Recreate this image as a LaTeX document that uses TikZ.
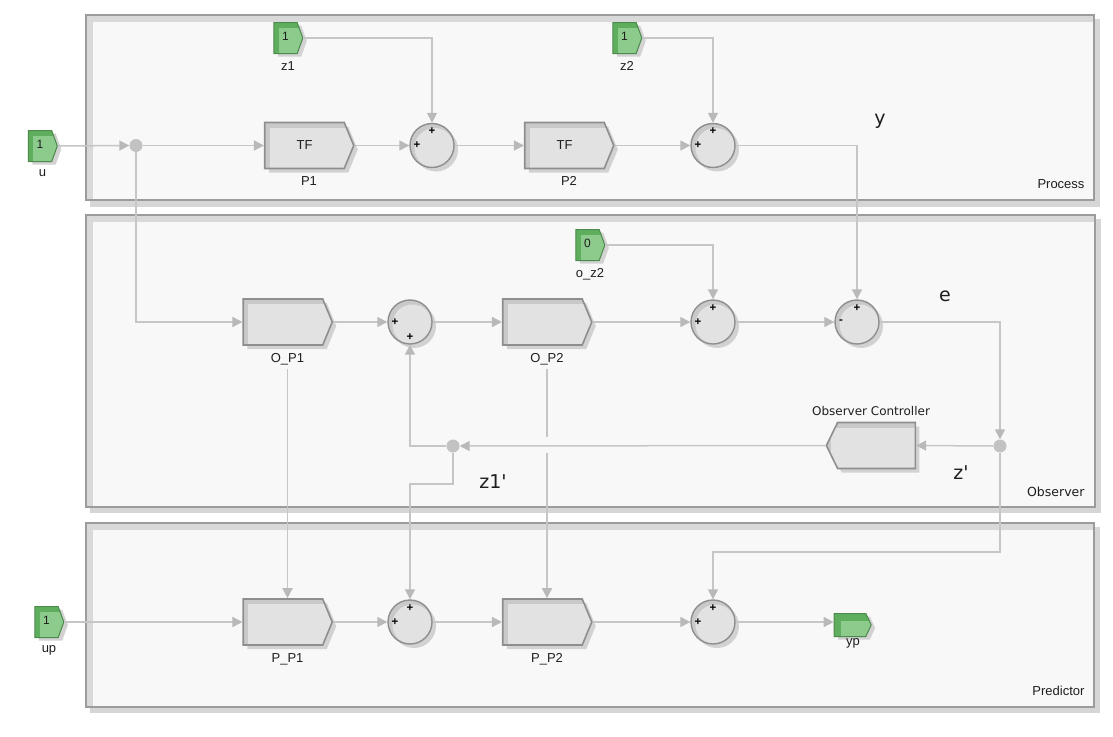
\documentclass[tikz,border=0pt]{standalone}
\usepackage{fontspec}
\setmainfont{Liberation Sans}
\newfontfamily\tahomaish{DejaVu Sans}
\usetikzlibrary{shapes.symbols,shapes.geometric,arrows.meta,shadows}
\definecolor{frameline}{HTML}{9C9C9C}
\definecolor{frameband}{HTML}{D9D9D9}
\definecolor{frameshad}{HTML}{D6D6D6}
\definecolor{panelbg}{HTML}{F8F8F8}
\definecolor{wirec}{HTML}{C6C6C6}
\definecolor{tipc}{HTML}{B9B9B9}
\definecolor{dotc}{HTML}{C2C2C2}
\definecolor{blkline}{HTML}{8E8E8E}
\definecolor{blkband}{HTML}{C9C9C9}
\definecolor{blkfill}{HTML}{E2E2E2}
\definecolor{shad}{HTML}{D2D2D2}
\definecolor{gdark}{HTML}{5EAE5E}
\definecolor{glight}{HTML}{8CCB8C}
\definecolor{gline}{HTML}{4D8A4D}
\definecolor{txt}{HTML}{1E1E1E}
\tikzset{
  wire/.style={draw=wirec, line width=1.5pt},
  arr/.style={wire, -{Triangle[length=10pt,width=10pt,color=tipc,fill=tipc]}},
  gapcover/.style={draw=panelbg, line width=4pt},
  myshadow/.style={drop shadow={shadow xshift=4pt,shadow yshift=-4pt,fill=shad,opacity=1}},
  blockbox/.style={signal, signal to=east, signal pointer angle=135,
    minimum width=89pt, minimum height=46pt, inner sep=0pt,
    draw=blkline, line width=1.6pt, fill=blkband, myshadow,
    path picture={\fill[blkfill] ([xshift=5pt]path picture bounding box.south west) rectangle ([yshift=-5pt]path picture bounding box.north east);},
    font=\fontsize{13}{15}\selectfont, text=txt},
  sumnode/.style={circle, minimum size=44pt, inner sep=0pt,
    draw=blkline, line width=1.4pt, fill=blkband, myshadow,
    path picture={\fill[blkfill] ([xshift=2.5pt,yshift=-2.5pt]path picture bounding box.center) circle (20pt);}},
  dotnode/.style={circle, fill=dotc, minimum size=13pt, inner sep=0pt},
  portnode/.style={signal, signal to=east, signal pointer angle=140,
    minimum width=29pt, minimum height=31pt, inner sep=0pt,
    draw=gline, line width=1pt, fill=gdark,
    drop shadow={shadow xshift=4pt,shadow yshift=-3pt,fill=shad,opacity=1},
    path picture={\fill[glight] ([xshift=5pt]path picture bounding box.south west) rectangle ([yshift=-5pt]path picture bounding box.north east);},
    font=\fontsize{12}{13}\selectfont, text=txt},
  outport/.style={signal, signal to=east, signal pointer angle=130,
    minimum width=37pt, minimum height=23pt, inner sep=0pt,
    draw=gline, line width=1pt, fill=gdark,
    drop shadow={shadow xshift=4pt,shadow yshift=-3pt,fill=shad,opacity=1},
    path picture={\fill[glight] ([xshift=7pt]path picture bounding box.south west) rectangle ([yshift=-7pt]path picture bounding box.north east);}},
  lbl/.style={font=\fontsize{13}{15}\selectfont, text=txt},
  blab/.style={lbl, xshift=4.5pt, label distance=4pt},
  plab/.style={lbl, xshift=2.5pt, label distance=4pt},
  biglbl/.style={font=\tahomaish\fontsize{19}{22}\selectfont, text=txt},
  paneltitle/.style={font=\fontsize{13}{15}\selectfont, text=txt, anchor=east},
  sgn/.style={font=\fontsize{11.5}{11.5}\selectfont\bfseries, text=black, inner sep=0pt},
}
\begin{document}
\begin{tikzpicture}[x=1pt,y=-1pt]
\useasboundingbox (0,0) rectangle (1113,736);
\fill[white] (0,0) rectangle (1113,736);

% ---------------- panels
\fill[frameshad] (90,19) rectangle (1100,207);
\draw[frameline, line width=2pt, fill=frameband] (86,15) rectangle (1094,200);
\fill[panelbg] (93,22) rectangle (1093,199);

\fill[frameshad] (90,219) rectangle (1101,513);
\draw[frameline, line width=2pt, fill=frameband] (86,215) rectangle (1095,507);
\fill[panelbg] (93,222) rectangle (1094,506);

\fill[frameshad] (90,527) rectangle (1100,713);
\draw[frameline, line width=2pt, fill=frameband] (86,523) rectangle (1094,707);
\fill[panelbg] (93,530) rectangle (1093,706);

\node[paneltitle] (tProcess) at (1088,184) {Process};
\node[paneltitle, font=\tahomaish\fontsize{12.5}{14}\selectfont] (tObserver) at (1088,492) {Observer};
\node[paneltitle] (tPredictor) at (1088,691) {Predictor};

% ---------------- Process
\node[portnode, label={[plab]below:u}] (u) at (40,146) {\raisebox{4pt}{1}};
\node[dotnode] (dU) at (136,145.5) {};
\node[blockbox, label={[blab]below:P1}] (P1) at (304.5,145.5) {TF};
\node[sumnode] (S1) at (432,145.5) {};
\node[portnode, label={[plab]below:z1}] (z1) at (285.5,38) {\raisebox{4pt}{1}};
\node[blockbox, label={[blab]below:P2}] (P2) at (564.5,145.5) {TF};
\node[sumnode] (S2) at (713,145.5) {};
\node[portnode, label={[plab]below:z2}] (z2) at (624.5,38) {\raisebox{4pt}{1}};
\node[biglbl] (ly) at (880,121) {y};

% ---------------- Observer
\node[blockbox, label={[blab, name=lOP1]below:O\_P1}] (OP1) at (283,322) {};
\node[sumnode] (S3) at (410,322) {};
\node[blockbox, label={[blab, name=lOP2]below:O\_P2}] (OP2) at (542.5,322) {};
\node[sumnode] (S4) at (713,322) {};
\node[portnode, label={[plab]below:o\_z2}] (oz2) at (587.5,245) {\raisebox{4pt}{0}};
\node[sumnode] (Se) at (857,322) {};
\node[biglbl] (le) at (945,296) {e};
\node[dotnode] (dE) at (1000,446) {};
\node[blockbox, signal to=west, signal pointer angle=128,
      label={[lbl, xshift=-5.5pt, font=\tahomaish\fontsize{12}{14}\selectfont, label distance=2pt]above:Observer Controller}] (OC) at (876.5,445.5) {};
\node[dotnode] (dZ) at (453,446) {};
\node[biglbl] (lz1) at (493,482) {z1'};
\node[biglbl] (lz) at (961,473) {z'};

% ---------------- Predictor
\node[portnode, label={[plab]below:up}] (up) at (46.5,622) {\raisebox{4pt}{1}};
\node[blockbox, label={[blab]below:P\_P1}] (PP1) at (283,622) {};
\node[sumnode] (S6) at (410,622) {};
\node[blockbox, label={[blab]below:P\_P2}] (PP2) at (542.5,622) {};
\node[sumnode] (S7) at (713,622) {};
\node[outport, label={[lbl, xshift=3pt, label distance=-2pt]below:yp}] (yp) at (850,625) {};

\coordinate (c1) at (410,484);
\coordinate (c2) at (713,552);
\coordinate (xg) at (lOP2.south |- dZ);

% ---------------- signs
\node[sgn] at ([yshift=14pt]S1.center) {+};
\node[sgn] at ([xshift=-15pt]S1.center) {+};
\node[sgn] at ([yshift=14pt]S2.center) {+};
\node[sgn] at ([xshift=-15pt]S2.center) {+};
\node[sgn] at ([xshift=-15pt]S3.center) {+};
\node[sgn] at ([yshift=-15pt]S3.center) {+};
\node[sgn] at ([yshift=14pt]S4.center) {+};
\node[sgn] at ([xshift=-15pt]S4.center) {+};
\node[sgn] at ([yshift=14pt]Se.center) {+};
\node[sgn] at ([xshift=-16pt]Se.center) {-};
\node[sgn] at ([yshift=14pt]S6.center) {+};
\node[sgn] at ([xshift=-15pt]S6.center) {+};
\node[sgn] at ([yshift=14pt]S7.center) {+};
\node[sgn] at ([xshift=-15pt]S7.center) {+};

% ---------------- wires
\draw[arr] (u.east) -- (dU.west);
\draw[arr] (dU.east) -- (P1.west);
\draw[arr] (P1.east) -- (S1.west);
\draw[arr] (z1.east) -| (S1.north);
\draw[arr] (S1.east) -- (P2.west);
\draw[arr] (P2.east) -- (S2.west);
\draw[arr] (z2.east) -| (S2.north);
\draw[arr] (S2.east) -| (Se.north);

\draw[arr] (dU.south) |- (OP1.west);
\draw[arr] (OP1.east) -- (S3.west);
\draw[arr] (S3.east) -- (OP2.west);
\draw[arr] (OP2.east) -- (S4.west);
\draw[arr] (oz2.east) -| (S4.north);
\draw[arr] (S4.east) -- (Se.west);
\draw[arr] (Se.east) -| (dE.north);
\draw[arr] (dE.west) -- (OC.east);

\draw[arr] (lOP1.south) -- (lOP1.south |- PP1.north);
\draw[arr] (lOP2.south) -- (lOP2.south |- PP2.north);
\draw[gapcover] ([yshift=9pt]xg) -- ([yshift=-7pt]xg);
\draw[arr] (OC.west) -- (dZ.east);
\draw[arr] (dZ.west) -| (S3.south);
\draw[arr] (dZ.south) |- (c1) -- (S6.north);
\draw[arr] (dE.south) |- (c2) -- (S7.north);

\draw[arr] (up.east) -- (PP1.west);
\draw[arr] (PP1.east) -- (S6.west);
\draw[arr] (S6.east) -- (PP2.west);
\draw[arr] (PP2.east) -- (S7.west);
\draw[arr] (S7.east) -- (S7.east -| yp.west);
\end{tikzpicture}
\end{document}
